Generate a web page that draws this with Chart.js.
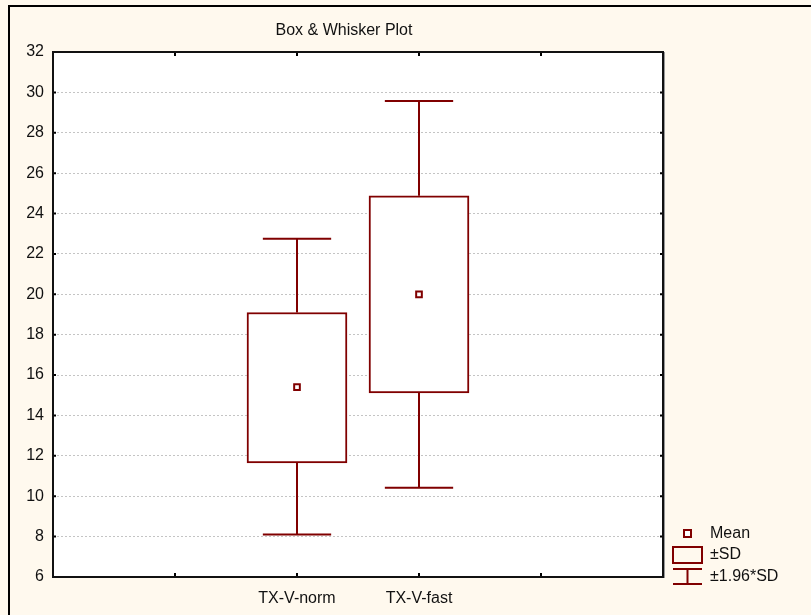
<!DOCTYPE html>
<html>
<head>
<meta charset="utf-8">
<script src="https://cdn.jsdelivr.net/npm/chart.js@4.4.0/dist/chart.umd.min.js"></script>
<style>
  html, body { margin: 0; padding: 0; background: #fff9ee; }
</style>
</head>
<body>
<canvas id="boxChart" width="811" height="615"></canvas>
<script>
// valori
const categories = ['TX-V-norm', 'TX-V-fast'];
const positions = [2, 3];
const means = [15.4, 20.0];
const sdLow = [11.65, 15.12];
const sdHigh = [19.1, 24.88];
const ciLow = [8.1, 10.42];
const ciHigh = [22.75, 29.57];
const legendLabels = ['Mean', '±SD', '±1.96*SD'];
const titleText = 'Box & Whisker Plot';

const red = '#800000';
const font = { family: '"Liberation Sans", Arial, sans-serif', size: 16 };

const boxPlugin = {
    id: 'boxPlugin',
    beforeDraw(chart) {
        const ctx = chart.ctx;
        const a = chart.chartArea;
        ctx.save();
        ctx.fillStyle = '#fff9ee';
        ctx.fillRect(0, 0, chart.width, chart.height);
        ctx.fillStyle = '#000';
        ctx.fillRect(8, 5, 2, chart.height);
        ctx.fillRect(8, 5, chart.width, 2);
        ctx.fillStyle = '#fff';
        ctx.fillRect(a.left, a.top, a.right - a.left, a.bottom - a.top);
        ctx.restore();
    },
    beforeDatasetsDraw(chart) {
        // baffi: dalla scatola a ±1.96*SD
        const ctx = chart.ctx;
        const x = chart.scales.x, y = chart.scales.y;
        const cap = 0.28;
        ctx.save();
        ctx.strokeStyle = red;
        ctx.lineWidth = 2;
        positions.forEach((p, i) => {
            const px = x.getPixelForValue(p);
            const l = x.getPixelForValue(p - cap), r = x.getPixelForValue(p + cap);
            const yTop = y.getPixelForValue(ciHigh[i]), yBot = y.getPixelForValue(ciLow[i]);
            ctx.beginPath();
            ctx.moveTo(px, yTop); ctx.lineTo(px, y.getPixelForValue(sdHigh[i]));
            ctx.moveTo(px, yBot); ctx.lineTo(px, y.getPixelForValue(sdLow[i]));
            ctx.moveTo(l, yTop); ctx.lineTo(r, yTop);
            ctx.moveTo(l, yBot); ctx.lineTo(r, yBot);
            ctx.stroke();
        });
        ctx.restore();
    },
    afterDraw(chart) {
        const ctx = chart.ctx;
        const a = chart.chartArea;
        const x = chart.scales.x, y = chart.scales.y;
        ctx.save();
        // tacche interne
        ctx.strokeStyle = '#000';
        ctx.lineWidth = 2;
        ctx.beginPath();
        [1, 2, 3, 4].forEach(v => {
            const px = Math.round(x.getPixelForValue(v));
            ctx.moveTo(px, a.top); ctx.lineTo(px, a.top + 4);
            ctx.moveTo(px, a.bottom); ctx.lineTo(px, a.bottom - 4);
        });
        y.ticks.forEach(t => {
            const py = y.getPixelForValue(t.value);
            ctx.moveTo(a.left, py); ctx.lineTo(a.left + 3, py);
            ctx.moveTo(a.right, py); ctx.lineTo(a.right - 3, py);
        });
        ctx.stroke();
        // cornice area grafico
        ctx.strokeStyle = '#111';
        ctx.lineWidth = 2;
        ctx.strokeRect(a.left, a.top, a.right - a.left, a.bottom - a.top);
        ctx.strokeStyle = '#999';
        ctx.lineWidth = 1;
        ctx.beginPath();
        ctx.moveTo(a.right + 1.5, a.top); ctx.lineTo(a.right + 1.5, a.bottom + 1);
        ctx.stroke();

        // titolo
        ctx.fillStyle = '#111';
        ctx.font = '16px "Liberation Sans", Arial, sans-serif';
        ctx.textAlign = 'center';
        ctx.textBaseline = 'middle';
        ctx.fillText(titleText, 344, 31);

        // legenda
        const lx = a.right + 10;
        ctx.strokeStyle = red;
        ctx.lineWidth = 2;
        ctx.fillStyle = '#fff';
        ctx.fillRect(lx + 11, 530, 7, 7);
        ctx.strokeRect(lx + 11, 530, 7, 7);
        ctx.strokeRect(lx, 547, 29, 16);
        ctx.beginPath();
        ctx.moveTo(lx, 569); ctx.lineTo(lx + 29, 569);
        ctx.moveTo(lx + 14.5, 569); ctx.lineTo(lx + 14.5, 584);
        ctx.moveTo(lx, 584); ctx.lineTo(lx + 29, 584);
        ctx.stroke();
        ctx.fillStyle = '#111';
        ctx.textAlign = 'left';
        [534, 555, 577].forEach((ty, i) => ctx.fillText(legendLabels[i], lx + 37, ty));
        ctx.restore();
    }
};

const config = {
    type: 'bar',
    data: {
        datasets: [
            {
                type: 'line',
                label: legendLabels[0],
                data: positions.map((p, i) => ({ x: p, y: means[i] })),
                showLine: false,
                pointStyle: 'rect',
                pointRadius: 4,
                pointBackgroundColor: '#fff',
                pointBorderColor: red,
                pointBorderWidth: 2
            },
            {
                label: legendLabels[1],
                data: positions.map((p, i) => ({ x: p, y: [sdLow[i], sdHigh[i]] })),
                backgroundColor: '#fff',
                borderColor: red,
                borderWidth: 2,
                borderSkipped: false,
                barThickness: 100
            }
        ]
    },
    options: {
        responsive: false,
        animation: false,
        layout: { padding: { left: 0, top: 52, right: 148, bottom: 0 } },
        plugins: {
            legend: { display: false },
            title: { display: false },
            tooltip: { enabled: false }
        },
        scales: {
            x: {
                type: 'linear',
                min: 0,
                max: 5,
                offset: false,
                afterFit: (s) => { s.height = 38; },
                afterBuildTicks: (s) => { s.ticks = positions.map(v => ({ value: v })); },
                grid: { display: false, drawTicks: false, offset: false },
                border: { display: false },
                ticks: {
                    padding: 12,
                    color: '#111',
                    font: font,
                    callback: (v) => categories[positions.indexOf(v)] || ''
                }
            },
            y: {
                min: 6,
                max: 32,
                afterFit: (s) => { s.width = 53; },
                grid: {
                    drawTicks: false,
                    color: '#c4c4c4',
                    lineWidth: 1
                },
                border: { display: false, dash: [2, 2] },
                ticks: {
                    stepSize: 2,
                    padding: 9,
                    color: '#111',
                    font: font
                }
            }
        }
    },
    plugins: [boxPlugin]
};

window.boxChart = new Chart(document.getElementById('boxChart'), config);
</script>
</body>
</html>
